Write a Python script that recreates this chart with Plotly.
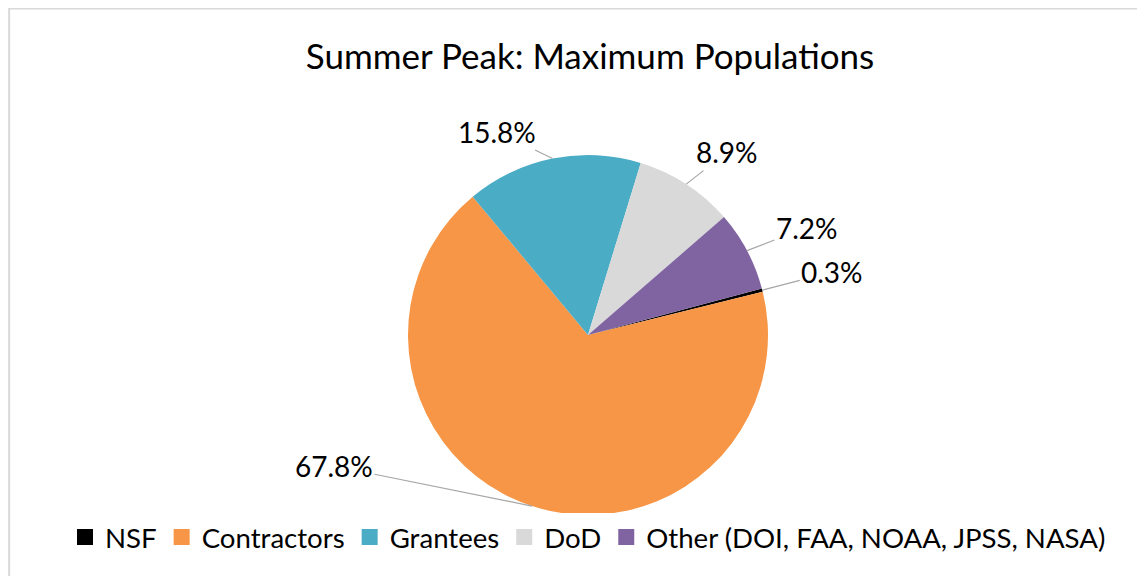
import math

import plotly.graph_objects as go

# Summer peak population shares (percent)
GROUPS = ["NSF", "Contractors", "Grantees", "DoD", "Other (DOI, FAA, NOAA, JPSS, NASA)"]
SHARES = [0.3, 67.8, 15.8, 8.9, 7.2]
COLORS = ["#000000", "#F79646", "#4BACC6", "#D9D9D9", "#8064A2"]

# label offsets (px) from the slice edge, one per slice -- layout only
LABEL_DX = [70, -198, -55, 41, 60]
LABEL_DY = [-18, -40, -27, -32, -23]

# the page body has an 8px margin, so the figure is sized to fit the window
W, H = 1137, 568
FONT = "Lato, Carlito, Calibri, sans-serif"
ROTATION = 75

# pie box in figure pixels
CX, CY, R = 580, 327, 180

fig = go.Figure(go.Pie(
    labels=GROUPS,
    values=SHARES,
    sort=False,
    direction="clockwise",
    rotation=ROTATION,
    marker=dict(colors=COLORS, line=dict(width=0)),
    textinfo="none",
    hoverinfo="label+value",
    showlegend=False,
    domain=dict(x=[(CX - R) / W, (CX + R) / W], y=[1 - (CY + R) / H, 1 - (CY - R) / H]),
))

# legend-only entries so the swatches can be the larger Excel-style squares
for name, color in zip(GROUPS, COLORS):
    fig.add_trace(go.Scatter(
        x=[None], y=[None], mode="markers", name=name,
        marker=dict(symbol="square", size=16, color=color),
    ))

# data labels with leader lines, anchored at each slice's mid-angle on the rim
total = sum(SHARES)
start = 0.0
for share, dx, dy in zip(SHARES, LABEL_DX, LABEL_DY):
    mid = math.radians(ROTATION + 360 * (start + share / 2) / total)
    start += share
    px = CX + R * math.sin(mid)
    py = CY - R * math.cos(mid)
    fig.add_annotation(
        x=px / W, y=1 - py / H, xref="paper", yref="paper",
        ax=dx, ay=dy,
        text=f"{share:.1f}%",
        showarrow=True, arrowhead=0, arrowwidth=1.2, arrowcolor="#A6A6A6",
        standoff=0,
        font=dict(size=28, color="#000000", family=FONT),
    )

fig.update_layout(
    width=W, height=H,
    margin=dict(l=0, r=0, t=0, b=0),
    paper_bgcolor="white",
    plot_bgcolor="white",
    xaxis=dict(visible=False),
    yaxis=dict(visible=False),
    font=dict(family=FONT, color="#000000"),
    title=dict(
        text="Summer Peak: Maximum Populations",
        x=582 / W, xanchor="center",
        y=1 - 49 / H, yanchor="middle",
        font=dict(size=35, color="#000000", family=FONT),
    ),
    legend=dict(
        orientation="h",
        x=580 / W, xanchor="center",
        y=1 - 529 / H, yanchor="middle",
        font=dict(size=27.6, family=FONT),
        itemwidth=30,
        itemsizing="trace",
        traceorder="normal",
    ),
    shapes=[dict(
        type="rect", xref="paper", yref="paper",
        x0=0.001, x1=1.05, y0=-0.05, y1=0.999,
        line=dict(color="#D9D9D9", width=2),
    )],
)

fig.write_html("out.html")
